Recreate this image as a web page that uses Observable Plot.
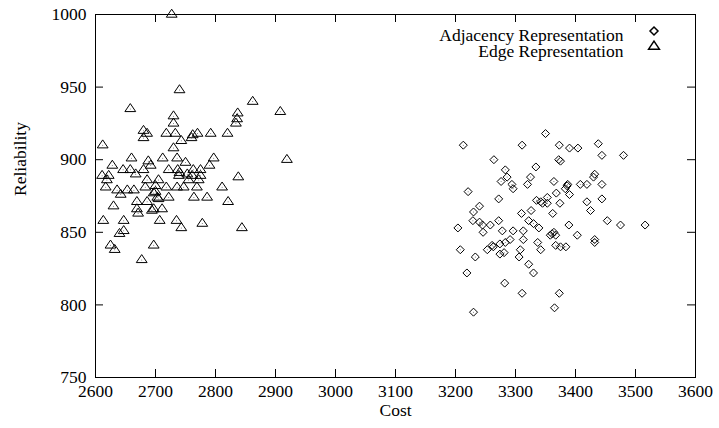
<!DOCTYPE html>
<html>
<head>
<meta charset="utf-8">
<script src="https://cdn.jsdelivr.net/npm/d3@7"></script>
<script src="https://cdn.jsdelivr.net/npm/@observablehq/plot@0.6"></script>
<style>
  html, body { margin: 0; padding: 0; background: #fff; }
  svg { display: block; }
</style>
</head>
<body>
<div id="chart"></div>
<script>
// Tick values
const xTicks = [2600, 2700, 2800, 2900, 3000, 3100, 3200, 3300, 3400, 3500, 3600];
const yTicks = [750, 800, 850, 900, 950, 1000];

// Series: Edge Representation (cost, reliability)
const edgeCost = [2727,2740,2862,2658,2908,2837,2730,2836,2834,2730,2680,2686,2680,2718,2733,2762,2770,2792,2820,2760,2743,2612,2730,2660,2712,2736,2797,2919,2688,2750,2628,2692,2790,2646,2658,2680,2722,2737,2763,2775,2740,2753,2611,2622,2667,2739,2761,2775,2619,2686,2705,2755,2772,2617,2636,2653,2664,2683,2700,2700,2718,2736,2747,2769,2811,2642,2697,2703,2722,2764,2786,2630,2669,2686,2705,2821,2669,2671,2697,2711,2694,2613,2647,2707,2735,2778,2743,2844,2647,2640,2625,2632,2697,2677,2838];
const edgeRel  = [1000,948,940,935,933,932,930,928,925,925,920,918,915,918,918,917,918,918,918,915,913,910,908,901,901,901,901,900,899,898,896,896,896,893,893,893,893,893,893,893,891,890,889,889,890,889,889,889,886,886,886,886,886,881,879,879,879,881,882,878,881,881,881,881,881,876,877,874,874,874,874,868,871,871,873,871,866,863,866,866,865,858,858,858,858,856,853,853,851,849,841,838,841,831,888];

// Series: Adjacency Representation (cost, reliability)
const adjCost = [3350,3213,3311,3373,3390,3404,3438,3444,3480,3264,3372,3375,3334,3283,3432,3430,3325,3286,3276,3364,3294,3296,3320,3386,3383,3387,3408,3419,3444,3390,3221,3368,3272,3335,3353,3342,3353,3374,3345,3444,3419,3240,3230,3326,3310,3362,3425,3229,3240,3258,3272,3245,3322,3330,3339,3389,3453,3475,3516,3204,3246,3278,3296,3313,3361,3358,3364,3367,3403,3432,3432,3261,3253,3274,3283,3291,3313,3337,3342,3274,3281,3308,3306,3367,3375,3384,3208,3233,3322,3330,3219,3282,3311,3373,3365,3230,3263];
const adjRel  = [918,910,910,910,908,908,911,903,903,900,900,899,895,893,890,888,888,888,885,885,883,880,883,882,880,883,883,883,883,876,878,877,873,872,874,871,870,870,870,873,871,868,864,865,863,863,865,858,857,855,858,855,858,856,853,855,858,855,855,853,850,851,851,851,849,848,850,848,848,845,843,841,838,842,843,845,845,843,838,835,836,838,833,841,840,840,838,833,828,822,822,815,808,808,798,795,840];

const legendLabels = ["Adjacency Representation", "Edge Representation"];
const axisLabels = {x: "Cost", y: "Reliability"};

const edge = edgeCost.map((c, i) => ({cost: c, rel: edgeRel[i]}));
const adj = adjCost.map((c, i) => ({cost: c, rel: adjRel[i]}));

// gnuplot-like point symbols
const triSym = {draw(ctx) { ctx.moveTo(0, -5.3); ctx.lineTo(5.4, 2.7); ctx.lineTo(-5.4, 2.7); ctx.closePath(); }};
const diaSym = {draw(ctx) { ctx.moveTo(0, -4); ctx.lineTo(4, 0); ctx.lineTo(0, 4); ctx.lineTo(-4, 0); ctx.closePath(); }};

const W = 719, H = 428, mL = 95, mR = 24, mT = 14, mB = 51;
const plotW = W - mL - mR, plotH = H - mT - mB;
const tickLen = 8;

const chart = Plot.plot({
  width: W, height: H,
  marginLeft: mL, marginRight: mR, marginTop: mT, marginBottom: mB,
  style: {fontFamily: "'Liberation Serif', 'Times New Roman', serif", fontSize: "17.5px", background: "#fff", color: "#000"},
  x: {domain: [2600, 3600]},
  y: {domain: [750, 1000]},
  marks: [
    Plot.frame({stroke: "#000", strokeWidth: 1}),
    // inward ticks on all four sides
    Plot.tickX(xTicks, {x: d => d, insetTop: plotH - tickLen, stroke: "#000"}),
    Plot.tickX(xTicks, {x: d => d, insetBottom: plotH - tickLen, stroke: "#000"}),
    Plot.tickY(yTicks, {y: d => d, insetRight: plotW - tickLen, stroke: "#000"}),
    Plot.tickY(yTicks, {y: d => d, insetLeft: plotW - tickLen, stroke: "#000"}),
    Plot.axisX({ticks: xTicks, tickSize: 0, tickPadding: 7, label: null, tickFormat: d => String(d)}),
    Plot.axisY({ticks: yTicks, tickSize: 0, tickPadding: 9, label: null, tickFormat: d => String(d)}),
    Plot.text([axisLabels.x], {text: d => d, frameAnchor: "bottom", dy: 38}),
    Plot.text([axisLabels.y], {text: d => d, frameAnchor: "left", dx: -75, rotate: -90}),
    // points
    Plot.dot(edge, {x: "cost", y: "rel", symbol: triSym, stroke: "#000", fill: "none", strokeWidth: 1}),
    Plot.dot(adj, {x: "cost", y: "rel", symbol: diaSym, stroke: "#000", fill: "none", strokeWidth: 1}),
    Plot.dot(edge, {x: "cost", y: "rel", r: 0.5, fill: "#666", stroke: null}),
    Plot.dot(adj, {x: "cost", y: "rel", r: 0.5, fill: "#666", stroke: null}),
    // legend
    Plot.text([legendLabels[0]], {text: d => d, frameAnchor: "top-right", textAnchor: "end", dx: -72, dy: 14.5}),
    Plot.text([legendLabels[1]], {text: d => d, frameAnchor: "top-right", textAnchor: "end", dx: -72, dy: 30.5}),
    Plot.dot([legendLabels[0]], {frameAnchor: "top-right", dx: -41.5, dy: 16.5, symbol: diaSym, stroke: "#000", fill: "none"}),
    Plot.dot([legendLabels[1]], {frameAnchor: "top-right", dx: -41.5, dy: 32, symbol: triSym, stroke: "#000", fill: "none"})
  ]
});
document.getElementById("chart").appendChild(chart);
</script>
</body>
</html>
